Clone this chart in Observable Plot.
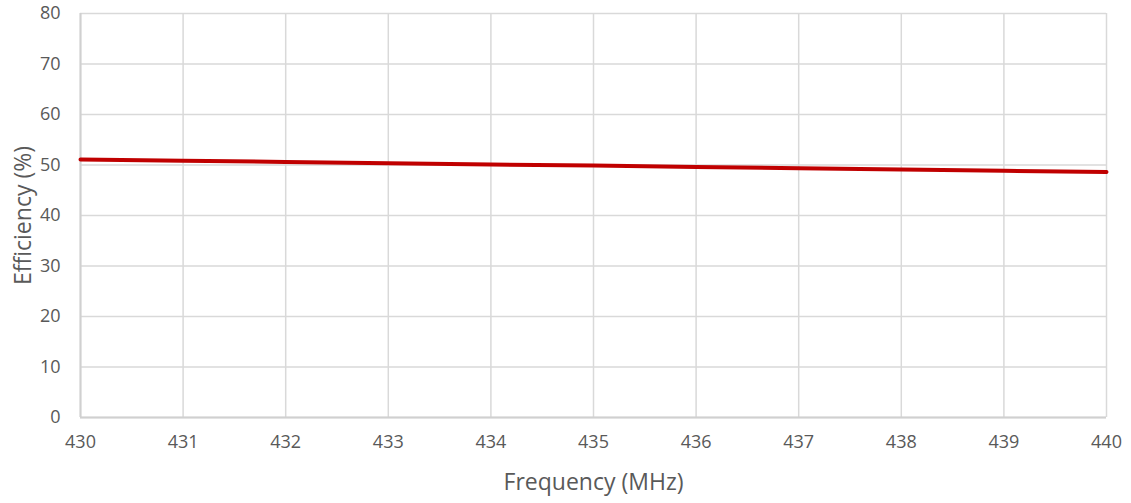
<!DOCTYPE html>
<html><head><meta charset="utf-8">
<script src="https://cdn.jsdelivr.net/npm/d3@7"></script>
<script src="https://cdn.jsdelivr.net/npm/@observablehq/plot@0.6"></script>
<style>
body{margin:0;background:#fff;}
svg{font-family:"Open Sans",Carlito,Calibri,sans-serif;}
</style>
</head><body>
<div id="chart"></div>
<script>
const frequency = [430, 431, 432, 433, 434, 435, 436, 437, 438, 439, 440];
const efficiency = [51.1, 50.85, 50.6, 50.35, 50.1, 49.9, 49.6, 49.35, 49.1, 48.85, 48.6];
const xTicks = [430, 431, 432, 433, 434, 435, 436, 437, 438, 439, 440];
const yTicks = [0, 10, 20, 30, 40, 50, 60, 70, 80];

const data = frequency.map((f, i) => ({f, e: efficiency[i]}));

const chart = Plot.plot({
  width: 1131,
  height: 503,
  marginLeft: 80,
  marginRight: 25,
  marginTop: 13,
  marginBottom: 86,
  style: {fontSize: "18px", color: "#595959", background: "#fff"},
  x: {domain: [430, 440]},
  y: {domain: [0, 80]},
  marks: [
    Plot.ruleY(yTicks, {stroke: "#d9d9d9", strokeWidth: 1.5, strokeOpacity: 1}),
    Plot.ruleX(xTicks, {stroke: "#d9d9d9", strokeWidth: 1.5, strokeOpacity: 1}),
    Plot.ruleY([0], {stroke: "#d0d0d0", strokeWidth: 2}),
    Plot.ruleX([430], {stroke: "#d0d0d0", strokeWidth: 2}),
    Plot.axisX({ticks: xTicks, tickSize: 0, tickPadding: 18, tickFormat: d => String(d), fill: "#595959", fontSize: 18,
      label: "Frequency (MHz)", labelAnchor: "center", labelArrow: "none", labelOffset: 72}),
    Plot.axisY({ticks: yTicks, tickSize: 0, tickPadding: 20, tickFormat: d => String(d), fill: "#595959", fontSize: 18,
      label: "Efficiency (%)", labelAnchor: "center", labelArrow: "none", labelOffset: 66}),
    Plot.line(data, {x: "f", y: "e", stroke: "#c00000", strokeWidth: 4})
  ]
});
document.getElementById("chart").appendChild(chart);
chart.querySelectorAll("g[aria-label='x-axis label'] text, g[aria-label='y-axis label'] text").forEach(t => {
  t.style.fontSize = "23px";
  t.setAttribute("fill", "#595959");
  t.style.fill = "#595959";
});
</script>
</body></html>
